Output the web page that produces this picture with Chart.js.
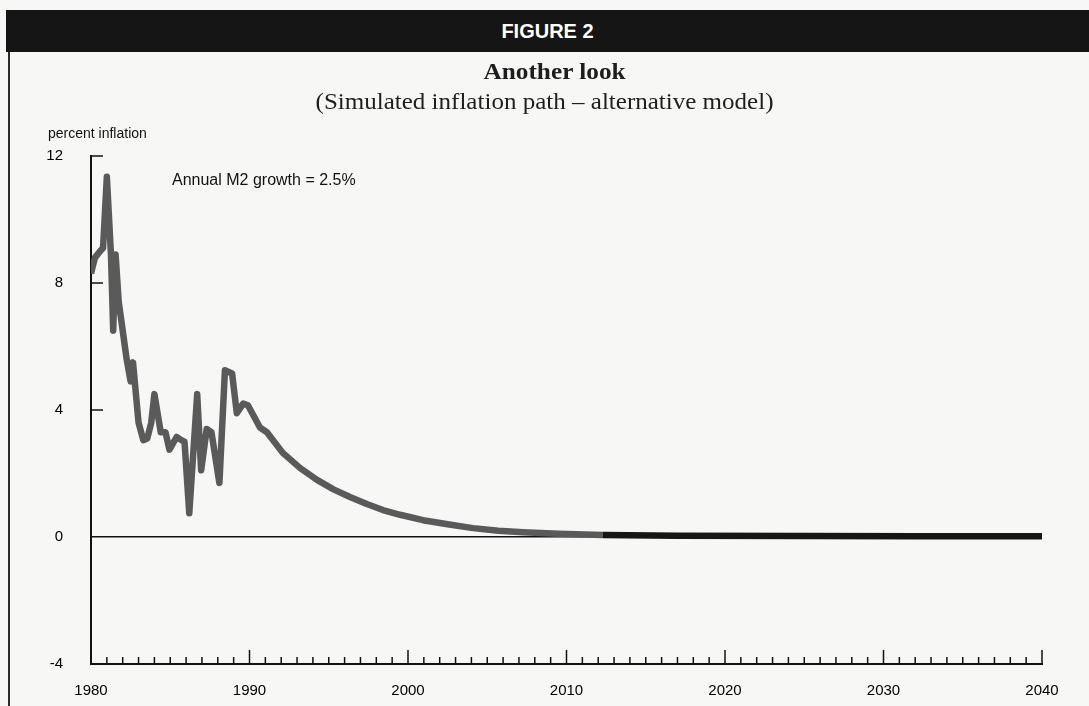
<!DOCTYPE html>
<html><head><meta charset="utf-8">
<script src="https://cdn.jsdelivr.net/npm/chart.js@4.4.1/dist/chart.umd.min.js"></script>
<style>
html,body{margin:0;padding:0;background:#f7f7f5;}
#wrap{position:relative;width:1089px;height:706px;overflow:hidden;background:#f7f7f5;}
#bar{position:absolute;left:6px;top:10px;width:1083px;height:42px;background:#151515;color:#fff;font:bold 20px "Liberation Sans",Arial,sans-serif;text-align:center;line-height:42px;}
#border{position:absolute;left:8px;top:52px;width:2px;height:654px;background:#2a2a2a;}
.t{position:absolute;left:0;width:1089px;text-align:center;color:#1e1e1e;line-height:1;}
#t1{left:10px;top:59px;font:bold 23px "Liberation Serif","Times New Roman",serif;transform:scaleX(1.1);transform-origin:544px 0;}
#t2{top:89px;font:23px "Liberation Serif","Times New Roman",serif;transform:scaleX(1.088);transform-origin:544px 0;}
#ylab{position:absolute;left:48px;top:126px;font:14px "Liberation Sans",Arial,sans-serif;color:#111;line-height:1;}
#note{position:absolute;left:172px;top:172px;font:16px "Liberation Sans",Arial,sans-serif;color:#111;line-height:1;}
canvas{position:absolute;left:0;top:0;}
</style></head>
<body>
<div id="wrap">
  <canvas id="c" width="1089" height="706"></canvas>
  <div id="bar">FIGURE 2</div>
  <div id="border"></div>
  <div class="t" id="t1">Another look</div>
  <div class="t" id="t2">(Simulated inflation path – alternative model)</div>
  <div id="ylab">percent inflation</div>
  <div id="note">Annual M2 growth = 2.5%</div>
</div>
<script>
// Data
const years = [1980.0,1980.25,1980.57,1980.76,1981.0,1981.26,1981.4,1981.55,1981.75,1982.25,1982.5,1982.65,1983.0,1983.3,1983.55,1983.8,1984.0,1984.4,1984.7,1984.95,1985.4,1985.7,1985.9,1986.2,1986.7,1986.95,1987.3,1987.6,1988.1,1988.45,1988.9,1989.2,1989.6,1989.9,1990.66,1991.1,1992.1,1993.2,1994.26,1995.3,1996.34,1997.4,1998.42,1999.5,2000.95,2002.5,2004.1,2005.7,2007.26,2009.5,2012.3,2017,2025,2032,2040];
const inflation = [8.3,8.8,9.0,9.1,11.35,8.9,6.5,8.9,7.4,5.6,4.9,5.5,3.6,3.05,3.1,3.6,4.5,3.3,3.3,2.75,3.15,3.05,3.0,0.75,4.5,2.1,3.4,3.3,1.7,5.25,5.15,3.9,4.2,4.15,3.45,3.3,2.65,2.17,1.8,1.5,1.26,1.04,0.85,0.7,0.53,0.4,0.28,0.2,0.15,0.1,0.06,0.04,0.03,0.02,0.02];
const xTickLabels = ['1980','1990','2000','2010','2020','2030','2040'];
const yTickLabels = ['-4','0','4','8','12'];

const points = years.map((x,i)=>({x:x,y:inflation[i]}));

const tickMarks = {
  id:'tickMarks',
  afterDraw(chart){
    const ctx = chart.ctx, xs = chart.scales.x, ys = chart.scales.y;
    ctx.save();
    ctx.strokeStyle = '#111';
    ctx.lineWidth = 1.5;
    [4,8,12].forEach(v=>{
      const py = ys.getPixelForValue(v);
      ctx.beginPath(); ctx.moveTo(xs.left, py); ctx.lineTo(xs.left+12, py); ctx.stroke();
    });
    for(let yr=1981; yr<=2040; yr++){
      const px = xs.getPixelForValue(yr);
      const len = (yr%10===0) ? 14 : 7;
      ctx.beginPath(); ctx.moveTo(px, ys.bottom); ctx.lineTo(px, ys.bottom-len); ctx.stroke();
    }
    ctx.restore();
  }
};

new Chart(document.getElementById('c'), {
  type:'line',
  data:{datasets:[{
    data:points,
    borderColor:'#5a5a5a',
    borderWidth:6.5,
    pointRadius:0,
    tension:0,
    borderJoinStyle:'round',
    segment:{borderColor: c => c.p0.parsed.x >= 2012 ? '#161616' : '#5a5a5a'}
  }]},
  options:{
    responsive:false,
    animation:false,
    events:[],
    layout:{padding:{left:21,right:47,top:156,bottom:0}},
    plugins:{legend:{display:false},tooltip:{enabled:false},title:{display:false}},
    scales:{
      x:{
        type:'linear', min:1980, max:2040,
        afterFit: s => { s.height = 42; },
        grid:{display:true, drawOnChartArea:false, drawTicks:false},
        border:{display:true, color:'#111', width:2},
        ticks:{stepSize:10, autoSkip:false, maxRotation:0, padding:18,
          color:'#000', font:{family:'"Liberation Sans", Arial, sans-serif', size:15},
          callback:(v,i)=> xTickLabels[i]}
      },
      y:{
        type:'linear', min:-4, max:12,
        afterFit: s => { s.width = 70; },
        grid:{display:true, drawOnChartArea:true, drawTicks:false,
          color: c => (c.tick && c.tick.value===0) ? '#111' : 'rgba(0,0,0,0)', lineWidth:1.5},
        border:{display:true, color:'#111', width:2},
        ticks:{stepSize:4, autoSkip:false, padding:28,
          color:'#000', font:{family:'"Liberation Sans", Arial, sans-serif', size:15},
          callback:(v,i)=> yTickLabels[i]}
      }
    }
  },
  plugins:[tickMarks]
});
</script>
</body></html>
